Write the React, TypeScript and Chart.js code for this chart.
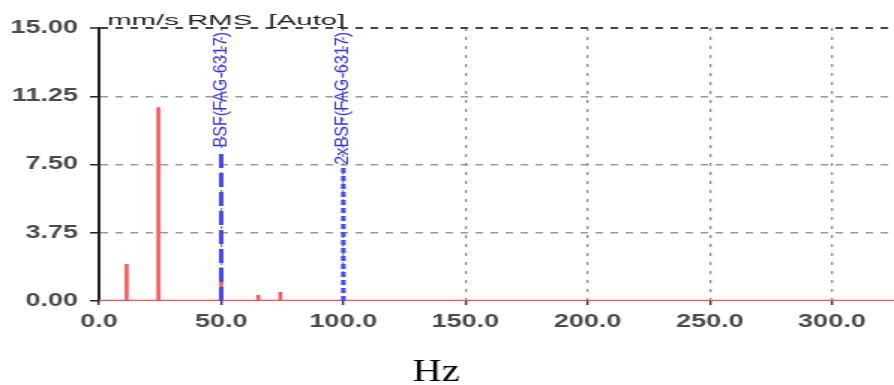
import React, { useEffect, useRef } from "react";
import { Chart, registerables } from "chart.js";

Chart.register(...registerables);

// ---- data ----
const spectrumFreqs = [11.3, 24.3, 50.0, 65.2, 74.2];
const spectrumAmps = [2.03, 10.65, 1.85, 0.33, 0.5];
const markerFreqs = [50, 100];
const markerTops = [8.3, 7.4];
const markerLabels = ["BSF(FAG-6317)", "2xBSF(FAG-6317)"];
const xTicks = [0, 50, 100, 150, 200, 250, 300];
const yTicks = [0, 3.75, 7.5, 11.25, 15];
const xMin = 0;
const xMax = 325.4;
const yMin = 0;
const yMax = 15;
const titleText = "mm/s RMS  [Auto]";
const xAxisTitle = "Hz";

// display stretch (reference is horizontally stretched)
const STRETCH = 1.5;
const OUT_W = 894;
const OUT_H = 385;
const IN_W = Math.round(OUT_W / STRETCH);

function buildSpectrum() {
  const pts: { x: number; y: number }[] = [{ x: xMin, y: 0 }];
  spectrumFreqs.forEach((f, i) => {
    pts.push({ x: f, y: 0 });
    pts.push({ x: f, y: spectrumAmps[i] });
    pts.push({ x: f, y: 0 });
  });
  pts.push({ x: xMax, y: 0 });
  return pts;
}

const overlayPlugin = {
  id: "overlay",
  afterDraw(chart: any) {
    const ctx = chart.ctx as CanvasRenderingContext2D;
    const area = chart.chartArea;
    const xs = chart.scales.x;
    // title
    ctx.save();
    ctx.font = "15px 'Liberation Sans', Arial, sans-serif";
    ctx.fillStyle = "#222";
    ctx.textAlign = "left";
    ctx.textBaseline = "alphabetic";
    const tw = ctx.measureText(titleText).width;
    const target = 238 / STRETCH;
    ctx.translate(area.left + 5.5, 25);
    ctx.scale(target / tw, 1);
    ctx.fillText(titleText, 0, 0);
    ctx.restore();

    // marker labels
    markerFreqs.forEach((f, i) => {
      const px = xs.getPixelForValue(f);
      ctx.save();
      ctx.font = "12.5px 'Liberation Sans', Arial, sans-serif";
      ctx.fillStyle = "#3030ff";
      ctx.translate(px, area.top + 4);
      ctx.rotate(-Math.PI / 2);
      ctx.scale(1.29, 1);
      ctx.textAlign = "right";
      ctx.textBaseline = "middle";
      ctx.fillText(markerLabels[i], 0, 0);
      ctx.restore();
    });

    // x axis title
    ctx.save();
    ctx.font = "32px 'Liberation Serif', 'Times New Roman', serif";
    ctx.fillStyle = "#000";
    ctx.textAlign = "center";
    ctx.textBaseline = "alphabetic";
    ctx.translate(chart.width * (436 / OUT_W), 381);
    ctx.scale(0.84, 1);
    ctx.fillText(xAxisTitle, 0, 0);
    ctx.restore();
  },
};

export default function App() {
  const ref = useRef<HTMLCanvasElement | null>(null);

  useEffect(() => {
    if (!ref.current) return;
    const markerDatasets = markerFreqs.map((f, i) => ({
      type: "line" as const,
      label: markerLabels[i],
      data: [
        { x: f, y: 0 },
        { x: f, y: markerTops[i] },
      ],
      borderColor: "#4545ff",
      borderWidth: 3,
      borderDash: i === 0 ? [14, 5] : [5, 3],
      pointRadius: 0,
      tension: 0,
    }));
    const tickFont = { family: "'Liberation Sans', Arial, sans-serif", size: 18, weight: "bold" as const };
    const chart = new Chart(ref.current, {
      type: "line",
      data: {
        datasets: [
          ...markerDatasets,
          {
            label: "spectrum",
            data: buildSpectrum(),
            borderColor: "rgb(255,80,90)",
            borderWidth: 2.5,
            pointRadius: 0,
            tension: 0,
          },
        ],
      },
      options: {
        animation: false,
        responsive: false,
        devicePixelRatio: 1,
        events: [],
        layout: { padding: { top: 28, right: 0, bottom: 0, left: 0 } },
        plugins: {
          legend: { display: false },
          tooltip: { enabled: false },
          title: { display: false },
        },
        scales: {
          x: {
            type: "linear",
            min: xMin,
            max: xMax,
            afterBuildTicks: (s: any) => {
              s.ticks = xTicks.map((v) => ({ value: v }));
            },
            afterFit: (s: any) => {
              s.height = OUT_H - 301;
            },
            ticks: {
              callback: (v: any) => Number(v).toFixed(1),
              font: tickFont,
              color: "#4a4a4a",
              padding: 6,
              maxRotation: 0,
              autoSkip: false,
            },
            grid: {
              color: (c: any) => (c.tick && c.tick.value === 0 ? "rgba(0,0,0,0)" : "#8a8a8a"),
              lineWidth: 1.3,
              drawTicks: true,
              tickLength: 4,
              tickColor: "#333",
              tickWidth: 1.5,
              tickBorderDash: [],
            },
            border: { display: false, dash: [3, 6] },
          },
          y: {
            type: "linear",
            min: yMin,
            max: yMax,
            afterBuildTicks: (s: any) => {
              s.ticks = yTicks.map((v) => ({ value: v }));
            },
            afterFit: (s: any) => {
              s.width = 66;
            },
            ticks: {
              callback: (v: any) => Number(v).toFixed(2),
              font: tickFont,
              color: "#4a4a4a",
              padding: 8,
            },
            grid: {
              color: (c: any) =>
                c.tick && c.tick.value === yMax
                  ? "#444"
                  : c.tick && c.tick.value === 0
                  ? "rgba(0,0,0,0)"
                  : "#9a9a9a",
              lineWidth: (c: any) => (c.tick && c.tick.value === yMax ? 2 : 1.5),
              drawTicks: true,
              tickLength: 6,
              tickColor: "#222",
              tickWidth: 1.5,
              tickBorderDash: [],
            },
            border: { display: true, color: "#222", width: 2, dash: [5, 5] },
          },
        },
      },
      plugins: [overlayPlugin],
    } as any);
    return () => chart.destroy();
  }, []);

  return (
    <div style={{ position: "absolute", left: 0, top: 0, width: OUT_W, height: OUT_H, background: "#fff" }}>
      <canvas
        ref={ref}
        width={IN_W}
        height={OUT_H}
        style={{ width: OUT_W + "px", height: OUT_H + "px", display: "block" }}
      />
    </div>
  );
}
